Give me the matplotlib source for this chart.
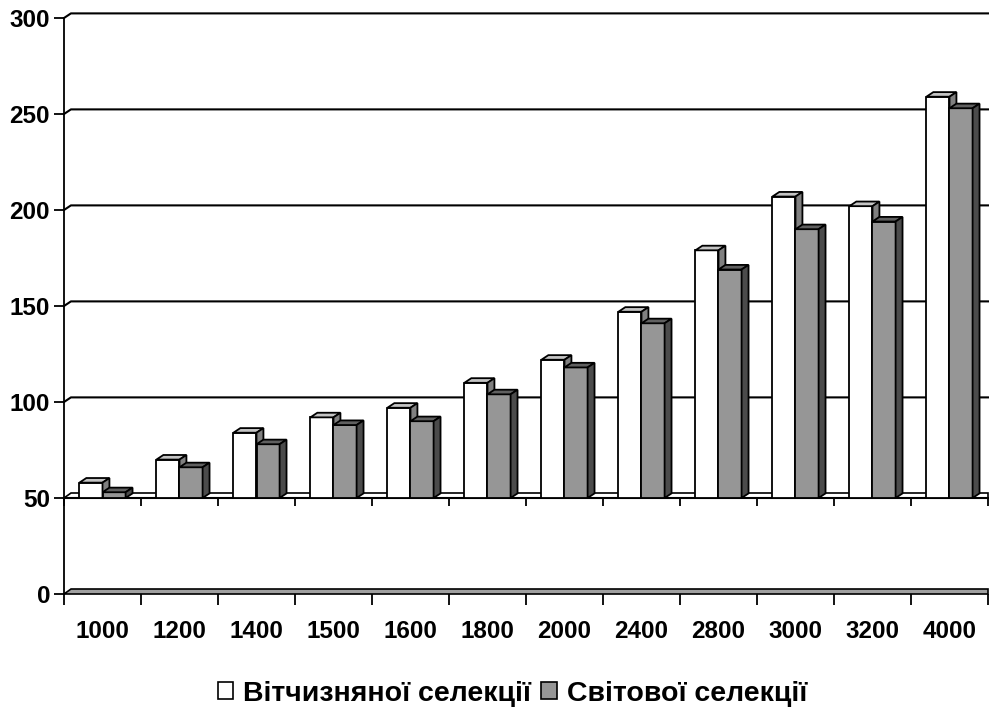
import matplotlib
matplotlib.use("Agg")
import matplotlib.pyplot as plt
from matplotlib.patches import Patch

plt.rcParams['font.family'] = ['Liberation Sans', 'DejaVu Sans']
plt.rcParams['font.weight'] = 'bold'

categories = ['1000', '1200', '1400', '1500', '1600', '1800',
              '2000', '2400', '2800', '3000', '3200', '4000']
domestic = [58, 70, 84, 92, 97, 110, 122, 147, 179, 207, 202, 259]
world = [53, 66, 78, 88, 90, 104, 118, 141, 169, 190, 194, 253]
series_names = ['Вітчизняної селекції', 'Світової селекції']
yticks = [0, 50, 100, 150, 200, 250, 300]

base = 50          # bars stand on the 50 floor
dx, dy = 0.09, 2.4  # 3d depth in data units
bw = 0.3

# colors: front, top, side
white_c = ('white', '#c4c4c4', '#808080')
gray_c = ('#969696', '#606060', '#4b4b4b')

fig = plt.figure(figsize=(9.89, 7.15), dpi=100)
ax = fig.add_axes([64 / 989, 121 / 715, 924 / 989, 576 / 715])
n = len(categories)
ax.set_xlim(0, n)
ax.set_ylim(0, 300)
for s in ['top', 'right', 'bottom']:
    ax.spines[s].set_visible(False)
ax.spines['left'].set_linewidth(1.3)

# gridlines with depth
for y in yticks[2:]:
    ax.plot([0, dx, n], [y, y + dy, y + dy], color='black', lw=1.5, zorder=1, clip_on=False)

# floors
ax.fill([0, n, n, dx], [base, base, base + dy, base + dy], facecolor='white',
        edgecolor='black', lw=1.2, zorder=2, clip_on=False)
ax.fill([0, n, n, dx], [0, 0, dy, dy], facecolor='#a0a0a0',
        edgecolor='black', lw=1.2, zorder=2, clip_on=False)


def bar3d(x0, top, cols, z):
    ax.bar(x0, top - base, width=bw, bottom=base, align='edge', color=cols[0],
           edgecolor='black', linewidth=1.3, zorder=z)
    ax.fill([x0, x0 + bw, x0 + bw + dx, x0 + dx], [top, top, top + dy, top + dy],
            facecolor=cols[1], edgecolor='black', lw=1.3, zorder=z)
    ax.fill([x0 + bw, x0 + bw + dx, x0 + bw + dx, x0 + bw],
            [base, base + dy, top + dy, top],
            facecolor=cols[2], edgecolor='black', lw=1.3, zorder=z)


for i in range(n):
    bar3d(i + 0.2, domestic[i], white_c, 3 + 2 * i)
    bar3d(i + 0.2 + bw, world[i], gray_c, 4 + 2 * i)

# ticks on the 50 floor
ax.vlines(range(n + 1), base - 4.2, base, color='black', lw=1.3, zorder=2, clip_on=False)
ax.plot([0, n], [base, base], color='black', lw=1.5, zorder=2, clip_on=False)

ax.set_yticks(yticks)
ax.set_yticklabels([str(v) for v in yticks], fontsize=17.5, fontweight='bold')
ax.tick_params(axis='y', length=7, width=1.3, pad=3)
ax.set_xticks(range(n + 1))
ax.set_xticklabels([])
ax.tick_params(axis='x', which='major', length=8, width=1.3)
ax.set_xticks([i + 0.5 for i in range(n)], minor=True)
ax.set_xticklabels(categories, minor=True, fontsize=17.5, fontweight='bold')
ax.tick_params(axis='x', which='minor', length=0, pad=19)

handles = [Patch(facecolor='white', edgecolor='black', lw=1.2),
           Patch(facecolor='#969696', edgecolor='black', lw=1.2)]
fig.legend(handles, series_names, loc='center', bbox_to_anchor=(0.518, 0.03), ncol=2,
           frameon=False, prop={'size': 20.5, 'weight': 'bold'},
           handlelength=0.55, handleheight=0.55, handletextpad=0.35, columnspacing=0.35)

fig.savefig('out.png', dpi=100)
